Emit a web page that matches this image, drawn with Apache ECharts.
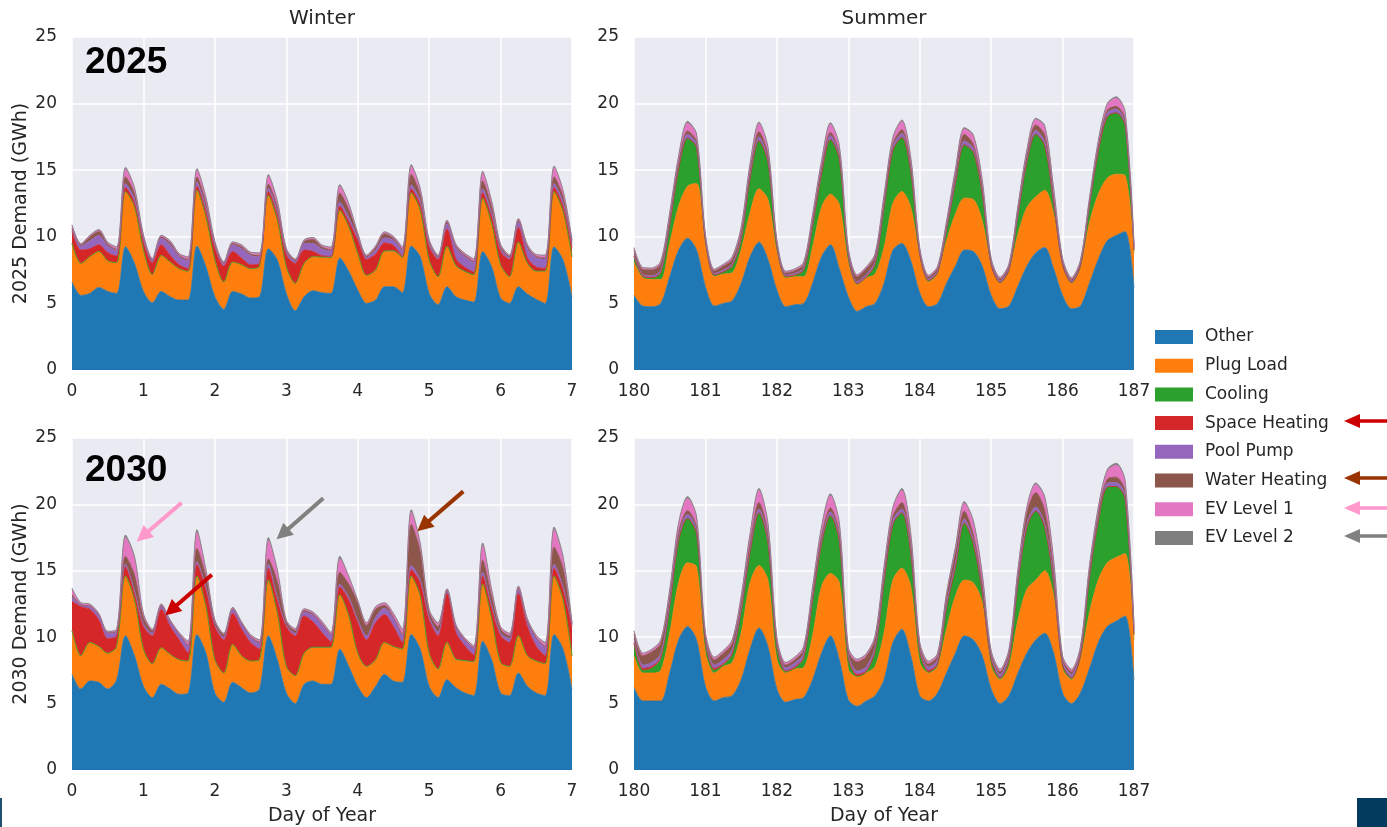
<!DOCTYPE html>
<html><head><meta charset="utf-8">
<script src="https://cdn.jsdelivr.net/npm/echarts@6/dist/echarts.min.js"></script>
<style>html,body{margin:0;padding:0;background:#fff;}#c{width:1387px;height:827px;}</style>
</head><body><div id="c"></div>
<script>
// ---------- categories / ticks ----------
const layerNames = ['Other','Plug Load','Cooling','Space Heating','Pool Pump','Water Heating','EV Level 1','EV Level 2'];
const layerColors = ['#1f77b4','#ff7f0e','#2ca02c','#d62728','#9467bd','#8c564b','#e377c2','#7f7f7f'];
const winterStart = 0;     // day of year, first sample (winter)
const summerStart = 180;   // day of year, first sample (summer)
const samplesPerDay = 8;   // samples every 3 hours
const panelTitles = ['Winter','Summer'];
const rowLabels = ['2025','2030'];
const yAxisNames = ['2025 Demand (GWh)','2030 Demand (GWh)'];

// ---------- 2025 winter (GWh) ----------
const w25Other = [6.6,5.6,5.75,6.2,5.9,5.75,9.25,8.0, 5.9,5.05,5.9,5.5,5.25,5.25,9.3,7.75, 5.5,4.55,5.9,5.7,5.4,5.5,9.1,8.25, 5.75,4.45,5.5,5.95,5.8,5.75,8.4,7.4, 6.0,5.0,5.25,6.25,6.25,5.8,9.3,8.5, 5.75,4.9,6.25,5.5,5.25,5.1,8.9,7.75, 5.4,5.0,6.25,5.7,5.3,5.0,9.25,8.25, 5.5];
const w25Plug = [2.9,2.4,2.75,2.7,2.3,2.3,4.15,4.25, 3.1,2.1,2.7,2.6,2.35,2.15,4.2,3.75, 2.75,2.05,2.2,2.2,2.2,2.3,4.0,3.0, 2.0,2.05,2.5,2.55,2.65,2.65,3.6,3.35, 2.75,2.1,2.25,2.65,2.65,2.6,4.0,3.5, 2.5,2.1,3.0,2.3,2.1,2.0,4.0,3.25, 2.5,2.0,3.35,2.3,2.1,2.4,4.15,3.65, 3.0];
const w25Cool = [0,0,0,0,0,0,0,0, 0,0,0,0,0,0,0,0, 0,0,0,0,0,0,0,0, 0,0,0,0,0.03,0.03,0,0, 0,0,0,0.03,0.05,0.05,0,0, 0,0,0.03,0.05,0.06,0.05,0,0, 0,0,0,0.03,0.03,0.03,0,0, 0];
const w25Heat = [0.9,1.0,0.6,0.5,0.6,0.5,0.3,0.3, 0.6,0.9,0.8,0.5,0.3,0.2,0.3,0.4, 0.9,1.2,0.8,0.5,0.3,0.2,0.3,0.4, 0.9,1.5,1.0,0.4,0.1,0.1,0.3,0.4, 1.0,1.2,1.2,0.6,0.4,0.1,0.3,0.4, 1.0,1.3,1.3,0.5,0.3,0.2,0.4,0.5, 1.0,1.3,1.1,0.4,0.3,0.2,0.3,0.4, 0.7];
const w25Pool = [0.2,0.3,0.6,0.7,0.5,0.4,0.3,0.3, 0.2,0.15,0.5,0.8,0.6,0.6,0.3,0.3, 0.2,0.15,0.5,0.7,0.7,0.5,0.25,0.3, 0.2,0.15,0.5,0.6,0.5,0.4,0.3,0.3, 0.2,0.15,0.3,0.4,0.4,0.4,0.3,0.3, 0.2,0.15,0.4,0.8,0.8,0.7,0.3,0.3, 0.2,0.15,0.4,0.7,0.7,0.7,0.3,0.3, 0.2];
const w25Water = [0.1,0.1,0.3,0.3,0.15,0.1,0.5,0.4, 0.2,0.1,0.1,0.15,0.1,0.1,0.4,0.35, 0.15,0.1,0.1,0.15,0.1,0.1,0.3,0.3, 0.15,0.1,0.15,0.3,0.15,0.1,0.7,0.6, 0.2,0.1,0.2,0.3,0.15,0.1,0.8,0.5, 0.2,0.1,0.15,0.15,0.1,0.1,0.6,0.45, 0.2,0.1,0.15,0.15,0.1,0.1,0.5,0.4, 0.2];
const w25Ev1 = [0.15,0.05,0.08,0.1,0.1,0.15,0.6,0.35, 0.1,0.05,0.08,0.1,0.1,0.15,0.5,0.35, 0.1,0.05,0.08,0.1,0.1,0.15,0.6,0.35, 0.1,0.05,0.08,0.1,0.1,0.15,0.5,0.35, 0.1,0.05,0.08,0.1,0.1,0.15,0.6,0.35, 0.1,0.05,0.08,0.1,0.1,0.15,0.6,0.35, 0.1,0.05,0.08,0.1,0.1,0.15,0.7,0.4, 0.15];
const w25Ev2 = [0.05,0.03,0.04,0.05,0.05,0.05,0.12,0.1, 0.05,0.03,0.04,0.05,0.05,0.05,0.12,0.1, 0.05,0.03,0.04,0.05,0.05,0.05,0.12,0.1, 0.05,0.03,0.04,0.05,0.05,0.05,0.12,0.1, 0.05,0.03,0.04,0.05,0.05,0.05,0.12,0.1, 0.05,0.03,0.04,0.05,0.05,0.05,0.12,0.1, 0.05,0.03,0.04,0.05,0.05,0.05,0.12,0.1, 0.05];

// ---------- 2025 summer (GWh) ----------
const s25Other = [5.6,4.8,4.75,5.0,7.0,9.0,9.9,9.0, 6.25,4.8,5.0,5.2,6.5,8.5,9.6,8.3, 6.0,4.75,4.9,5.0,6.5,8.5,9.4,7.6, 5.5,4.4,4.75,5.0,6.5,9.0,9.5,8.2, 5.8,4.75,5.0,6.5,7.8,9.0,8.9,7.8, 5.6,4.6,4.8,6.3,7.8,8.8,9.2,7.6, 5.6,4.6,4.8,6.5,8.3,9.7,10.1,10.4, 6.2];
const s25Plug = [2.5,2.1,2.05,1.8,2.5,3.3,3.9,5.0, 3.05,2.2,2.2,2.1,2.5,3.3,4.0,4.5, 2.8,2.15,2.1,2.0,2.7,3.7,3.8,4.8, 2.5,2.0,2.15,2.2,2.7,3.5,3.9,4.0, 2.7,1.85,2.2,3.2,3.9,3.9,3.9,3.4, 2.2,1.9,2.6,3.9,4.4,4.2,4.3,4.1, 2.2,1.9,2.8,4.5,4.9,4.7,4.6,4.2, 2.5];
const s25Cool = [0.4,0.1,0.1,0.5,1.4,2.8,3.6,2.7, 0.4,0.1,0.15,0.5,0.8,2.6,3.6,2.8, 0.5,0.1,0.1,0.5,1.6,2.5,4.1,3.4, 0.6,0.05,0.05,0.7,3.0,4.0,4.05,2.7, 0.2,0.1,0.1,0.8,2.35,4.0,3.55,2.05, 0.1,0.05,0.1,1.45,3.4,4.7,3.35,0.8, 0.1,0.05,0.2,1.3,3.2,4.6,4.6,3.75, 0.3];
const s25Heat = [0.05,0.05,0.05,0.03,0,0,0,0, 0,0.03,0.03,0,0,0,0,0, 0,0.03,0.03,0,0,0,0,0, 0,0.05,0.05,0.03,0,0,0,0, 0,0.03,0.03,0,0,0,0,0, 0,0.03,0.03,0,0,0,0,0, 0,0.03,0.03,0,0,0,0,0, 0];
const s25Pool = [0.15,0.1,0.12,0.15,0.25,0.3,0.3,0.25, 0.15,0.1,0.12,0.15,0.25,0.3,0.3,0.25, 0.15,0.1,0.12,0.15,0.25,0.3,0.3,0.25, 0.15,0.12,0.15,0.2,0.25,0.3,0.3,0.25, 0.15,0.1,0.12,0.15,0.25,0.3,0.3,0.25, 0.15,0.1,0.12,0.15,0.25,0.3,0.3,0.25, 0.15,0.1,0.12,0.15,0.25,0.3,0.3,0.25, 0.15];
const s25Water = [0.3,0.4,0.45,0.5,0.3,0.2,0.25,0.2, 0.15,0.2,0.3,0.35,0.3,0.3,0.4,0.3, 0.15,0.15,0.2,0.25,0.25,0.2,0.25,0.2, 0.2,0.4,0.45,0.4,0.3,0.2,0.3,0.2, 0.15,0.15,0.2,0.3,0.4,0.5,0.3,0.2, 0.15,0.15,0.2,0.3,0.3,0.4,0.5,0.3, 0.15,0.12,0.15,0.2,0.2,0.2,0.2,0.2, 0.15];
const s25Ev1 = [0.15,0.1,0.1,0.15,0.3,0.4,0.6,0.5, 0.15,0.1,0.1,0.15,0.3,0.4,0.6,0.5, 0.15,0.1,0.1,0.15,0.3,0.4,0.6,0.5, 0.15,0.1,0.1,0.15,0.3,0.4,0.6,0.5, 0.15,0.1,0.1,0.15,0.3,0.4,0.6,0.5, 0.15,0.1,0.1,0.15,0.3,0.4,0.6,0.5, 0.15,0.1,0.1,0.15,0.3,0.4,0.6,0.5, 0.15];
const s25Ev2 = [0.05,0.04,0.04,0.05,0.08,0.1,0.12,0.1, 0.05,0.04,0.04,0.05,0.08,0.1,0.12,0.1, 0.05,0.04,0.04,0.05,0.08,0.1,0.12,0.1, 0.05,0.04,0.04,0.05,0.08,0.1,0.12,0.1, 0.05,0.04,0.04,0.05,0.08,0.1,0.12,0.1, 0.05,0.04,0.04,0.05,0.08,0.1,0.12,0.1, 0.05,0.04,0.04,0.05,0.08,0.1,0.12,0.1, 0.05];

// ---------- 2030 winter (GWh) ----------
const w30Other = [7.2,6.1,6.7,6.6,6.1,6.8,10.1,8.6, 6.3,5.45,6.45,6.1,5.7,5.8,10.2,8.8, 5.8,5.1,6.6,6.2,5.8,6.1,10.1,8.3, 5.8,5.0,6.45,6.7,6.45,6.45,9.1,7.8, 6.3,5.45,6.3,7.2,6.7,6.6,10.2,9.1, 6.3,5.45,6.8,6.2,5.8,5.6,9.7,8.3, 5.8,5.6,7.3,6.3,5.8,5.6,10.2,9.1, 6.1];
const w30Plug = [3.3,2.5,2.9,2.7,2.7,2.5,4.5,4.2, 2.8,2.55,2.75,2.6,2.6,2.4,4.4,3.5, 2.5,2.2,2.85,2.4,2.4,2.2,4.2,3.5, 2.0,2.1,2.35,2.5,2.75,2.75,4.1,3.8, 2.5,2.35,2.0,2.4,2.6,2.5,4.4,4.0, 2.5,2.15,2.8,2.1,2.4,2.5,4.3,3.1, 2.3,2.2,2.8,2.3,2.4,2.4,4.4,3.7, 2.5];
const w30Cool = [0,0,0,0,0,0,0,0, 0,0,0,0,0,0,0,0, 0,0,0,0,0,0,0,0, 0,0,0,0.05,0.05,0.05,0,0, 0,0,0,0,0,0,0,0, 0,0,0,0.05,0.05,0.05,0,0, 0,0,0,0,0,0,0,0, 0];
const w30Heat = [2.2,3.7,2.5,2.0,1.1,0.8,0.7,0.5, 1.7,2.1,2.9,2.1,1.5,0.6,0.9,1.3, 2.5,2.5,2.35,2.0,1.4,0.8,0.9,1.0, 3.0,3.0,2.8,1.9,1.1,0.4,0.6,1.2, 2.3,2.0,2.8,2.1,1.5,0.5,0.5,1.0, 2.5,2.5,3.7,2.0,1.1,0.5,0.6,0.8, 2.0,1.8,3.2,2.2,1.1,0.6,0.6,0.8, 2.2];
const w30Pool = [0.3,0.1,0.2,0.35,0.4,0.3,0.2,0.2, 0.2,0.2,0.2,0.35,0.4,0.5,0.2,0.2, 0.1,0.2,0.3,0.4,0.4,0.4,0.3,0.2, 0.1,0.2,0.3,0.5,0.6,0.5,0.2,0.2, 0.2,0.3,0.4,0.5,0.6,0.5,0.3,0.2, 0.2,0.3,0.2,0.4,0.4,0.5,0.3,0.2, 0.2,0.3,0.3,0.4,0.6,0.6,0.3,0.2, 0.1];
const w30Water = [0.2,0.05,0.05,0.05,0.05,0.05,0.6,1.2, 0.5,0.2,0.1,0.05,0.05,0.1,1.0,0.8, 0.3,0.2,0.05,0.05,0.05,0.1,0.4,1.2, 0.3,0.2,0.1,0.1,0.05,0.05,0.9,1.0, 1.3,0.8,0.6,0.2,0.1,0.1,3.1,2.2, 0.4,0.4,0.05,0.05,0.05,0.05,0.9,0.7, 0.3,0.2,0.1,0.05,0.05,0.1,1.3,1.4, 0.1];
const w30Ev1 = [0.4,0.1,0.1,0.05,0.05,0.1,1.4,1.2, 0.2,0.05,0.05,0.05,0.05,0.2,1.2,0.4, 0.05,0.05,0.05,0.05,0.1,0.15,1.4,0.7, 0.05,0.1,0.1,0.1,0.15,0.1,1.0,0.5, 0.15,0.15,0.15,0.15,0.25,0.3,0.9,0.4, 0.15,0.2,0.05,0.1,0.1,0.1,1.1,0.4, 0.15,0.15,0.1,0.1,0.15,0.2,1.3,0.7, 0.05];
const w30Ev2 = [0.1,0.05,0.05,0.05,0.05,0.05,0.2,0.2, 0.1,0.05,0.05,0.05,0.05,0.1,0.2,0.1, 0.05,0.05,0.05,0.05,0.05,0.05,0.2,0.2, 0.05,0.05,0.05,0.05,0.05,0.05,0.2,0.1, 0.05,0.05,0.05,0.05,0.05,0.1,0.2,0.2, 0.05,0.1,0.05,0.05,0.05,0.05,0.2,0.1, 0.05,0.05,0.05,0.05,0.05,0.1,0.2,0.2, 0.05];

// ---------- 2030 summer (GWh) ----------
const s30Other = [6.2,5.2,5.2,5.2,7.3,9.8,10.8,9.8, 6.3,5.2,5.45,5.6,6.8,9.1,10.7,9.3, 6.1,5.1,5.3,5.45,6.8,8.8,10.1,8.3, 5.3,4.8,5.2,5.6,6.8,9.6,10.6,8.6, 5.6,5.2,5.8,7.3,8.8,10.1,9.8,8.6, 6.1,5.0,5.6,7.3,8.8,9.8,10.3,8.8, 5.8,5.0,5.8,7.6,9.6,10.8,11.2,11.6, 6.8];
const s30Plug = [2.4,2.1,2.1,2.3,3.0,4.3,4.8,5.5, 2.5,2.1,2.35,2.5,3.5,5.0,4.7,5.0, 2.2,2.2,2.3,2.25,3.3,5.0,4.7,5.8, 2.3,2.2,2.1,2.2,3.5,4.7,4.6,5.2, 2.5,2.1,2.0,3.3,4.3,4.2,4.3,4.0, 1.7,1.8,2.2,4.0,4.8,4.5,4.7,4.3, 1.8,1.8,2.5,4.2,4.7,4.8,4.8,4.7, 3.0];
const s30Cool = [0.9,0.2,0.35,0.85,2.05,3.2,3.35,2.5, 0.8,0.2,0.1,0.6,1.65,2.3,3.95,2.8, 1.0,0.1,0.05,0.7,2.65,3.2,4.35,3.1, 0.8,0.05,0.05,1.15,3.85,4.2,4.15,2.5, 0.8,0.05,0.1,1.65,2.15,4.3,2.95,0.8, 0.5,0.1,0.45,2.75,4.65,5.2,3.25,1.0, 0.3,0.1,0.25,2.65,4.45,5.7,5.35,4.1, 0.4];
const s30Heat = [0.1,0.15,0.15,0.1,0,0,0,0, 0.05,0.15,0.1,0.05,0,0,0,0, 0,0.05,0.1,0.05,0,0,0,0, 0.05,0.15,0.1,0,0,0,0,0, 0.05,0.15,0.1,0,0,0,0,0, 0,0.05,0.05,0,0,0,0,0, 0,0.05,0.05,0,0,0,0,0, 0];
const s30Pool = [0.25,0.25,0.3,0.3,0.3,0.3,0.3,0.3, 0.25,0.25,0.3,0.3,0.3,0.3,0.3,0.3, 0.25,0.25,0.3,0.3,0.3,0.3,0.3,0.3, 0.25,0.25,0.3,0.3,0.3,0.3,0.3,0.3, 0.25,0.25,0.3,0.3,0.3,0.3,0.3,0.3, 0.25,0.25,0.3,0.3,0.3,0.3,0.3,0.3, 0.25,0.25,0.3,0.3,0.3,0.3,0.3,0.3, 0.25];
const s30Water = [0.4,0.7,0.8,0.8,0.5,0.3,0.3,0.2, 0.2,0.4,0.5,0.5,0.4,0.4,0.5,0.4, 0.2,0.2,0.25,0.3,0.3,0.3,0.3,0.3, 0.3,0.7,0.8,0.6,0.4,0.3,0.5,0.4, 0.2,0.25,0.3,0.5,0.8,0.6,0.4,0.3, 0.2,0.2,0.3,0.5,0.8,1.1,1.0,0.6, 0.2,0.2,0.2,0.3,0.3,0.3,0.4,0.3, 0.2];
const s30Ev1 = [0.2,0.15,0.15,0.2,0.35,0.6,0.9,0.7, 0.2,0.15,0.15,0.2,0.35,0.6,0.9,0.7, 0.2,0.15,0.15,0.2,0.35,0.6,0.9,0.7, 0.2,0.15,0.15,0.2,0.35,0.6,0.9,0.7, 0.2,0.15,0.15,0.2,0.35,0.6,0.9,0.7, 0.2,0.15,0.15,0.2,0.35,0.6,0.9,0.7, 0.2,0.15,0.15,0.2,0.35,0.6,0.9,0.7, 0.2];
const s30Ev2 = [0.05,0.05,0.05,0.05,0.1,0.12,0.15,0.12, 0.05,0.05,0.05,0.05,0.1,0.12,0.15,0.12, 0.05,0.05,0.05,0.05,0.1,0.12,0.15,0.12, 0.05,0.05,0.05,0.05,0.1,0.12,0.15,0.12, 0.05,0.05,0.05,0.05,0.1,0.12,0.15,0.12, 0.05,0.05,0.05,0.05,0.1,0.12,0.15,0.12, 0.05,0.05,0.05,0.05,0.1,0.12,0.15,0.12, 0.05];

// ---------- annotation arrows in the 2030 winter panel (sample index, GWh) ----------
const arrowTargets = [
  {color:'#ff99cc', tail:[12.28,20.13], tip:[7.25,17.21]},  // EV Level 1
  {color:'#808080', tail:[28.14,20.47], tip:[22.91,17.37]}, // EV Level 2
  {color:'#993300', tail:[43.82,20.98], tip:[38.67,17.98]}, // Water Heating
  {color:'#cc0000', tail:[15.66,14.71], tip:[10.42,11.63]}  // Space Heating
];

// ---------- build option ----------
const FONT = '"DejaVu Sans", sans-serif';
const TXT = '#262626';
const panels = [
  {start:winterStart, layers:[w25Other,w25Plug,w25Cool,w25Heat,w25Pool,w25Water,w25Ev1,w25Ev2]},
  {start:summerStart, layers:[s25Other,s25Plug,s25Cool,s25Heat,s25Pool,s25Water,s25Ev1,s25Ev2]},
  {start:winterStart, layers:[w30Other,w30Plug,w30Cool,w30Heat,w30Pool,w30Water,w30Ev1,w30Ev2]},
  {start:summerStart, layers:[s30Other,s30Plug,s30Cool,s30Heat,s30Pool,s30Water,s30Ev1,s30Ev2]}
];
const gridBoxes = [
  {left:72, top:37, width:500, height:333},
  {left:634, top:37, width:500, height:333},
  {left:72, top:438, width:500, height:333},
  {left:634, top:438, width:500, height:333}
];

const grids = [], xAxes = [], yAxes = [], series = [];
panels.forEach((p, g) => {
  grids.push(Object.assign({show:true, backgroundColor:'#eaeaf2', borderWidth:0, containLabel:false}, gridBoxes[g]));
  // sample times (day of year) as categories; every 8th one is a whole day
  const cats = p.layers[0].map((_, i) => String(p.start + i / samplesPerDay));
  xAxes.push({
    gridIndex:g, type:'category', data:cats, boundaryGap:false,
    axisLine:{show:false}, axisTick:{show:false},
    axisLabel:{fontSize:17, color:TXT, margin:13, fontFamily:FONT, interval:samplesPerDay-1},
    splitLine:{show:true, interval:samplesPerDay-1, lineStyle:{color:'#ffffff', width:1.5}},
    name: g >= 2 ? 'Day of Year' : '', nameLocation:'middle', nameGap:37,
    nameTextStyle:{fontSize:19, color:TXT, fontFamily:FONT}
  });
  yAxes.push({
    gridIndex:g, type:'value', min:0, max:25, interval:5,
    axisLine:{show:false}, axisTick:{show:false},
    axisLabel:{fontSize:17, color:TXT, margin:15, fontFamily:FONT},
    splitLine:{show:true, lineStyle:{color:'#ffffff', width:1.5}},
    name: g % 2 === 0 ? yAxisNames[g/2] : '', nameLocation:'middle', nameGap:41,
    nameTextStyle:{fontSize:19, color:TXT, fontFamily:FONT}
  });
  p.layers.forEach((arr, j) => {
    series.push({
      type:'line', name:layerNames[j], xAxisIndex:g, yAxisIndex:g, stack:'panel'+g,
      smooth:0.3, symbol:'none', showSymbol:false, silent:true,
      data: arr,
      lineStyle:{width:0.8, color:layerColors[j]},
      itemStyle:{color:layerColors[j]},
      areaStyle:{color:layerColors[j], opacity:1},
      emphasis:{disabled:true}
    });
  });
});

const chart = echarts.init(document.getElementById('c'), null, {renderer:'canvas'});
chart.setOption({
  animation:false,
  backgroundColor:'#ffffff',
  textStyle:{fontFamily:FONT},
  grid:grids, xAxis:xAxes, yAxis:yAxes, series:series,
  legend:{
    data:layerNames, orient:'vertical', left:1150, top:322,
    icon:'rect', itemWidth:38, itemHeight:14, itemGap:8.7, selectedMode:false,
    textStyle:{fontSize:17, color:TXT, fontFamily:FONT, lineHeight:20, padding:[0,0,0,7]}
  }
});

// ---------- graphic overlay: titles, row labels, arrows ----------
function arrowEls(tail, tip, color, lw, headLen, headHalf) {
  const dx = tip[0]-tail[0], dy = tip[1]-tail[1];
  const L = Math.sqrt(dx*dx+dy*dy), ux = dx/L, uy = dy/L;
  const bx = tip[0]-ux*headLen, by = tip[1]-uy*headLen;
  const px = -uy, py = ux;
  return [
    {type:'line', silent:true, z:100, shape:{x1:tail[0], y1:tail[1], x2:bx+ux*2, y2:by+uy*2}, style:{stroke:color, lineWidth:lw}},
    {type:'polygon', silent:true, z:100, shape:{points:[[tip[0],tip[1]],[bx+px*headHalf, by+py*headHalf],[bx-px*headHalf, by-py*headHalf]]}, style:{fill:color}}
  ];
}
// convert a (fractional sample index, value) pair of grid 2 to pixels
function toPx(pt) {
  const i0 = Math.floor(pt[0]), f = pt[0] - i0;
  const a = chart.convertToPixel({gridIndex:2}, [i0, pt[1]]);
  const b = chart.convertToPixel({gridIndex:2}, [i0 + 1, pt[1]]);
  return [a[0] + (b[0]-a[0])*f, a[1]];
}
const gfx = [];
gfx.push({type:'text', x:322, y:19, style:{text:panelTitles[0], font:'20px '+FONT, fill:TXT, textAlign:'center', textVerticalAlign:'middle'}});
gfx.push({type:'text', x:884, y:19, style:{text:panelTitles[1], font:'20px '+FONT, fill:TXT, textAlign:'center', textVerticalAlign:'middle'}});
gfx.push({type:'text', x:85, y:63, z:100, style:{text:rowLabels[0], font:'bold 37px "Liberation Sans", Arial, sans-serif', fill:'#000', textAlign:'left', textVerticalAlign:'middle'}});
gfx.push({type:'text', x:85, y:471, z:100, style:{text:rowLabels[1], font:'bold 37px "Liberation Sans", Arial, sans-serif', fill:'#000', textAlign:'left', textVerticalAlign:'middle'}});
arrowTargets.forEach(a => {
  gfx.push(...arrowEls(toPx(a.tail), toPx(a.tip), a.color, 4, 16, 8));
});
// legend-side arrows
[['#cc0000',421],['#993300',478],['#ff99cc',508],['#808080',536]].forEach(([c, y]) => {
  gfx.push(...arrowEls([1390, y], [1344, y], c, 3.5, 16, 7));
});
// slide corner marks
gfx.push({type:'rect', shape:{x:1357, y:798, width:30, height:29}, style:{fill:'#003a5c'}});
gfx.push({type:'rect', shape:{x:0, y:798, width:2, height:29}, style:{fill:'#1f4e6e'}});
chart.setOption({graphic:gfx});
</script>
</body></html>
